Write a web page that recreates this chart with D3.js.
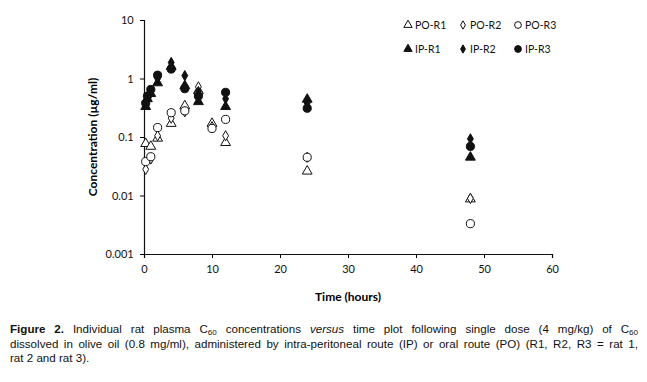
<!DOCTYPE html>
<html>
<head>
<meta charset="utf-8">
<script src="https://cdn.jsdelivr.net/npm/d3@7"></script>
<style>
  body { margin: 0; background: #fff; width: 647px; height: 382px; overflow: hidden; position: relative; }
  svg { position: absolute; left: 0; top: 0; }
  .caption { position: absolute; left: 10px; top: 322px; width: 628px; font-family: "Liberation Sans", Arial, sans-serif;
             font-size: 11.6px; line-height: 14.5px; color: #111; }
  .caption div { text-align: justify; text-align-last: justify; white-space: nowrap; }
  .caption div.last { text-align-last: left; }
  .caption sub { font-size: 8px; vertical-align: -2px; line-height: 0; }
</style>
</head>
<body>
<div class="caption">
  <div><b>Figure 2.</b> Individual rat plasma C<sub>60</sub> concentrations <i>versus</i> time plot following single dose (4 mg/kg) of C<sub>60</sub></div>
  <div>dissolved in olive oil (0.8 mg/ml), administered by intra-peritoneal route (IP) or oral route (PO) (R1, R2, R3 = rat 1,</div>
  <div class="last">rat 2 and rat 3).</div>
</div>
<script>
// time points (hours)
var timePO = [0.25, 1, 2, 4, 6, 8, 10, 12, 24, 48];
var timeIP = [0.25, 0.5, 1, 2, 4, 6, 8, 12, 24, 48];

// concentrations (ug/ml)
var poR1 = [0.077, 0.069, 0.095, 0.17, 0.34, 0.62, 0.17, 0.08, 0.026, 0.0087];
var poR2 = [0.028, 0.042, 0.105, 0.21, 0.27, 0.72, 0.15, 0.105, 0.045, 0.0089];
var poR3 = [0.038, 0.046, 0.145, 0.26, 0.28, 0.55, 0.14, 0.2, 0.045, 0.0033];
var ipR1 = [0.33, 0.45, 0.55, 0.84, 1.6, 0.75, 0.4, 0.33, 0.44, 0.045];
var ipR2 = [0.36, 0.48, 0.6, 1.0, 1.88, 1.12, 0.6, 0.45, 0.38, 0.093];
var ipR3 = [0.38, 0.5, 0.65, 1.14, 1.45, 0.67, 0.5, 0.58, 0.31, 0.069];

var xTicks = [0, 10, 20, 30, 40, 50, 60];
var yTicks = [0.001, 0.01, 0.1, 1, 10];

var series = [
  {name: "PO-R1", t: timePO, v: poR1, shape: "triangle", fill: false},
  {name: "PO-R2", t: timePO, v: poR2, shape: "diamond", fill: false},
  {name: "PO-R3", t: timePO, v: poR3, shape: "circle", fill: false},
  {name: "IP-R1", t: timeIP, v: ipR1, shape: "triangle", fill: true},
  {name: "IP-R2", t: timeIP, v: ipR2, shape: "diamond", fill: true},
  {name: "IP-R3", t: timeIP, v: ipR3, shape: "circle", fill: true}
];

var margin = {top: 20, right: 95, bottom: 128, left: 144},
    width = 647 - margin.left - margin.right,
    height = 382 - margin.top - margin.bottom;

var x = d3.scaleLinear().domain([0, 60]).range([0, width]);
var y = d3.scaleLog().domain([0.001, 10]).range([height, 0]);

var svg = d3.select("body").append("svg")
  .attr("width", 647)
  .attr("height", 382)
  .append("g")
  .attr("transform", "translate(" + margin.left + "," + margin.top + ")");

var font = "Lato, 'Open Sans', sans-serif";

// symbols
var sym = {
  triangle: d3.symbol().type(d3.symbolTriangle).size(42),
  diamond: d3.symbol().type(d3.symbolDiamond).size(30),
  circle: d3.symbol().type(d3.symbolCircle).size(52)
};
var legSym = {
  triangle: d3.symbol().type(d3.symbolTriangle).size(30),
  diamond: d3.symbol().type(d3.symbolDiamond).size(20),
  circle: d3.symbol().type(d3.symbolCircle).size(36)
};

// X axis
var xAxis = svg.append("g")
  .attr("transform", "translate(0," + height + ")")
  .call(d3.axisBottom(x).tickValues(xTicks).tickSize(4).tickFormat(d3.format("d")));
xAxis.select(".domain").attr("stroke", "#111").attr("stroke-width", 1.2);
xAxis.selectAll("text").attr("font-family", font).attr("font-size", 11).attr("fill", "#111").attr("dy", "1.1em");

// Y axis
var yAxis = svg.append("g")
  .call(d3.axisLeft(y).tickValues(yTicks).tickSize(4).tickFormat(function(d) { return d3.format("~g")(d); }));
yAxis.select(".domain").attr("stroke", "#111").attr("stroke-width", 1.2);
yAxis.selectAll("text").attr("font-family", font).attr("font-size", 11).attr("fill", "#111").attr("dx", "-0.3em");

// axis titles
svg.append("text")
  .attr("x", x(30)).attr("y", height + 47)
  .attr("text-anchor", "middle")
  .attr("font-family", font).attr("font-weight", "bold").attr("font-size", 12)
  .text("Time (hours)");

svg.append("text")
  .attr("transform", "translate(-47," + (height / 2) + ") rotate(-90)")
  .attr("text-anchor", "middle")
  .attr("font-family", font).attr("font-weight", "bold").attr("font-size", 12)
  .text("Concentration (µg/ml)");

// points
series.forEach(function(s) {
  var pts = s.t.map(function(t, i) { return {t: t, v: s.v[i]}; });
  svg.append("g").selectAll("path")
    .data(pts)
    .enter().append("path")
    .attr("d", sym[s.shape])
    .attr("transform", function(d) { return "translate(" + x(d.t) + "," + y(d.v) + ")"; })
    .attr("fill", s.fill ? "#111" : "#fff")
    .attr("stroke", "#111")
    .attr("stroke-width", 1);
});

// legend
var legend = svg.append("g");
series.forEach(function(s, i) {
  var lx = 264 + (i % 3) * 55, ly = 5 + Math.floor(i / 3) * 24;
  var g = legend.append("g").attr("transform", "translate(" + lx + "," + ly + ")");
  g.append("path").attr("d", legSym[s.shape])
    .attr("fill", s.fill ? "#111" : "#fff").attr("stroke", "#111");
  g.append("text").attr("x", 7).attr("y", 4)
    .attr("font-family", font).attr("font-size", 10.5).attr("fill", "#111")
    .text(s.name);
});
</script>
</body>
</html>
